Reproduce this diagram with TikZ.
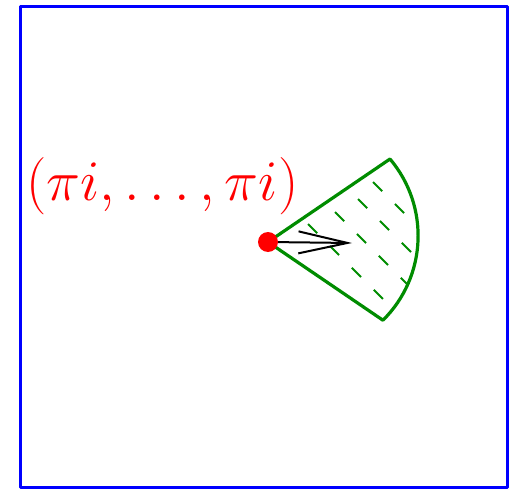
\documentclass[tikz,border=0pt]{standalone}
\usepackage{amsmath}
\usepackage{xcolor}
\usetikzlibrary{arrows.meta,positioning}

\definecolor{sectgreen}{RGB}{0,140,0}

\begin{document}
\begin{tikzpicture}[x=0.5pt,y=0.5pt,line join=round,
  frame/.style={draw=blue,line width=1.5pt},
  sector/.style={draw=sectgreen,line width=1.6pt},
  hatch/.style={sectgreen,line width=0.9pt,dash pattern=on 6.5pt off 9pt},
  dot/.style={fill=red,draw=none}]
  \useasboundingbox (0,0) rectangle (510,489);
  \draw[frame] (20,2) rectangle (507,483);
  \coordinate (c) at (268,247);
  \coordinate (top) at (390,330);
  % hatching inside the sector
  \begin{scope}
    \clip (c) -- (top) arc (40.2:-45.2:119) -- cycle;
    \foreach \sx/\sy in {308/265, 335/277, 358/290, 373/307}
      \draw[hatch] (\sx,\sy) -- ++(160,-160);
  \end{scope}
  \draw[sector] (c) -- (top) arc (40.2:-45.2:119) -- cycle;
  \coordinate (tip) at (352,246);
  \draw[line width=1pt,-{Straight Barb[length=24.5pt,width=11pt,line width=1pt]}] (c) -- (tip);
  \fill[dot] (c) circle (10);
  \node[red,anchor=base east,inner sep=0pt,font=\Huge,scale=1.152] (lab) at (299,289) {$(\pi i,\ldots,\pi i)$};
\end{tikzpicture}
\end{document}
